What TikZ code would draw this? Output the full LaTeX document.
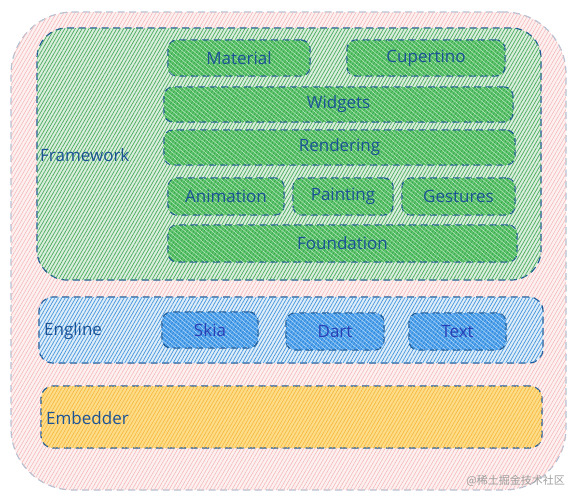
\documentclass[tikz,border=0pt]{standalone}
\usepackage{fontspec}
\setmainfont{Open Sans}
\newfontfamily\cjkfont{Noto Sans CJK SC}
\usetikzlibrary{patterns.meta}
\definecolor{strokeblue}{HTML}{1F5A96}
\definecolor{txtblue}{HTML}{1B5396}
\definecolor{engtxt}{HTML}{2A3FB5}
\definecolor{outerstroke}{HTML}{B4C2D4}
\definecolor{pinkhatch}{HTML}{F5A9A9}
\definecolor{greenhatch}{HTML}{2F9E44}
\definecolor{greenfill}{HTML}{5CC46B}
\definecolor{bluehatch}{HTML}{1C7ED6}
\definecolor{bluefill}{HTML}{55A4EC}
\definecolor{yellowfill}{HTML}{FCD46A}
\definecolor{yellowhatch}{HTML}{F59F00}
\tikzset{
  x=1pt, y=-1pt,
  dashline/.style={dash pattern=on 7pt off 4.5pt, line width=1.2pt},
  outerbox/.style={draw=outerstroke, dashline, rounded corners=62pt,
    fill=pinkhatch!18,
    postaction={pattern={Lines[angle=60,distance=3.2pt,line width=0.55pt]}, pattern color=pinkhatch!85}},
  groupbox/.style={draw=strokeblue, dashline, rounded corners=#1},
  greengroup/.style={groupbox=30pt, fill=greenhatch!18,
    postaction={pattern={Lines[angle=60,distance=3pt,line width=0.75pt]}, pattern color=greenhatch!85}},
  bluegroup/.style={groupbox=14pt, fill=bluehatch!14,
    postaction={pattern={Lines[angle=60,distance=3pt,line width=0.75pt]}, pattern color=bluehatch!80}},
  yellowgroup/.style={groupbox=12pt, fill=yellowfill!80,
    postaction={pattern={Lines[angle=60,distance=3pt,line width=0.65pt]}, pattern color=yellowhatch!75}},
  greenbox/.style={draw=strokeblue, dashline, rounded corners=9pt, fill=greenfill,
    text=txtblue, font=\fontsize{17}{19}\selectfont, inner sep=0pt,
    postaction={pattern={Lines[angle=60,distance=3pt,line width=0.5pt]}, pattern color=greenhatch},
    postaction={pattern={Lines[angle=-40,distance=3.5pt,line width=0.4pt]}, pattern color=white!70!greenfill}},
  bluebox/.style={draw=strokeblue, dashline, rounded corners=9pt, fill=bluefill,
    text=engtxt, font=\fontsize{17}{19}\selectfont, inner sep=0pt,
    postaction={pattern={Lines[angle=60,distance=3pt,line width=0.5pt]}, pattern color=bluehatch},
    postaction={pattern={Lines[angle=-40,distance=3.5pt,line width=0.4pt]}, pattern color=white!70!bluefill}},
  grouplabel/.style={anchor=west, text=txtblue, font=\fontsize{17}{19}\selectfont, inner sep=0pt},
}
\begin{document}
\begin{tikzpicture}
\useasboundingbox (0,0) rectangle (578,501);
% outer container
\node[outerbox, minimum width=555pt, minimum height=478pt] (outer) at (288.5,251) {};
% framework
\node[greengroup, minimum width=504pt, minimum height=252pt] (framework) at (289,154) {};
\node[grouplabel] (frameworklbl) at (40,155) {Framework};
\node[greenbox, minimum width=142pt, minimum height=36pt] (material) at (239,58) {Material};
\node[greenbox, minimum width=158pt, minimum height=36pt] (cupertino) at (426,58) {Cupertino};
\node[greenbox, minimum width=349pt, minimum height=35pt] (widgets) at (338.5,104.5) {Widgets};
\node[greenbox, minimum width=351pt, minimum height=35pt] (rendering) at (339.5,147.5) {Rendering};
\node[greenbox, minimum width=116pt, minimum height=37pt] (animation) at (226,196.5) {Animation};
\node[greenbox, minimum width=100pt, minimum height=37pt] (painting) at (343,196.5) {Painting};
\node[greenbox, minimum width=113pt, minimum height=37pt] (gestures) at (458.5,196.5) {Gestures};
\node[greenbox, minimum width=349pt, minimum height=37pt] (foundation) at (342.5,243.5) {Foundation};
% engine
\node[bluegroup, minimum width=504pt, minimum height=66pt] (engine) at (291,330) {};
\node[grouplabel] (enginelbl) at (44,331) {Engline};
\node[bluebox, minimum width=96pt, minimum height=36pt] (skia) at (210,330) {Skia};
\node[bluebox, minimum width=98pt, minimum height=37pt] (dart) at (335,331.5) {Dart};
\node[bluebox, minimum width=97pt, minimum height=37pt] (text) at (457.5,331.5) {Text};
% embedder
\node[yellowgroup, minimum width=501pt, minimum height=62pt] (embedder) at (291.5,417) {};
\node[grouplabel] (embedderlbl) at (46,418) {Embedder};
% watermark
\node[anchor=east, text=gray!75, font=\cjkfont\fontsize{11}{13}\selectfont, inner sep=0pt] (wm) at (565,481) {@稀土掘金技术社区};
\end{tikzpicture}
\end{document}
